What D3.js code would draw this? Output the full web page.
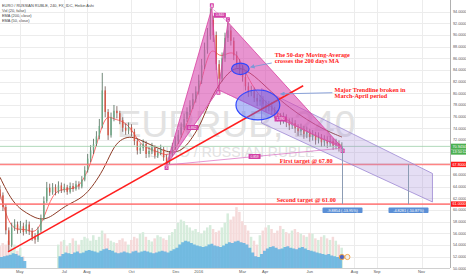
<!DOCTYPE html>
<html>
<head>
<meta charset="utf-8">
<script src="https://cdn.jsdelivr.net/npm/d3@7"></script>
<style>
body{margin:0;background:#fff;}
svg{display:block;}
</style>
</head>
<body>
<div id="chart"></div>
<script>
const W = 466, H = 275, plotR = 450 ;
const startDay = new Date(2015, 3, 4), endDay = new Date(2016, 11, 10) ;
const stepDays = 4 ;
const firstOpen = 63.5 ;

// 4-day candles
const closes = [62.5,60.5,56.5,54,57,57.5,56.5,57.2,56.2,57.5,56.3,55.3,54.9,56.5,58.5,61.5,63.8,63,63.9,63.1,
	64.2,63.4,63.9,63.1,64.1,63.6,64.4,64,65.2,66.8,68.8,70.2,71.3,72.6,74.4,80.5,76.8,72.8,75.8,77,
	76.6,75.4,74.1,73.6,74.2,73.4,71.8,70.2,70.6,71.3,69.6,70.1,70.7,69.3,69.8,70.4,69,68,69.5,70.8,
	71.8,72.9,74.2,75.6,76.8,77.9,79,80.3,82.2,84.8,87.5,89.8,92.6,90,85,82.5,86,89.5,90.8,89,
	86.5,85.2,84,82.8,81.2,80.1,80.4,79.2,78.6,78.9,78.1,77.6,77.9,77,76.5,75.9,75.4,75.9,75,74.5,
	74.9,74,73.5,73.9,73,73.4,72.5,72.9,72,72.4,71.6,72,71.4,71.8,71,71.4,70.6,70.9] ;
const highs = [64.2,63,61,57,57.8,58.4,58,58.1,57.8,58.3,58,56.9,56,57.1,59.2,62.3,64.8,64.5,64.6,64.4,
	64.9,64.7,64.5,64.3,64.7,64.6,65,64.9,65.8,67.5,69.6,71.1,72.2,73.5,75.6,83.5,81.2,77.3,76.7,78,
	77.8,77,75.9,74.8,75,74.7,73.9,72.3,71.4,72.1,71.8,70.8,71.5,71.1,70.5,71.2,70.8,69.5,70.1,71.5,
	72.6,73.7,75,76.5,77.6,78.8,80,81.2,83.2,85.9,88.7,91.2,94.6,93.3,90.6,85.7,87,90.4,92.2,91.5,
	89.6,87.2,85.9,84.8,83.5,81.9,81.3,81,79.9,79.7,79.5,78.8,78.7,78.5,77.7,77.1,76.6,76.7,76.4,75.7,
	75.8,75.4,74.7,74.8,74.4,74.3,73.9,73.7,73.4,73.3,73,72.8,72.6,72.7,72.3,72.2,71.9,71.6] ;
const lows = [61.8,59.8,55.8,52.8,53.6,56.4,55.9,56,55.6,55.9,55.7,54.7,54.2,54.5,56.1,58.2,61.2,62.4,62.6,62.5,
	62.8,62.9,63,62.6,62.8,63.1,63.3,63.5,63.7,64.9,66.4,68.2,69.6,70.9,72.1,74,75.9,72,72.4,75.2,
	75.7,74.7,73.4,72.9,73,72.6,71.1,69.5,69.6,70.1,68.9,69,69.6,68.8,68.9,69.4,68.4,67.7,67.8,69.1,
	70.3,71.3,72.4,73.7,75.1,76.3,77.3,78.4,79.8,81.6,84.2,86.8,89.2,88.8,84,80.6,82,85.4,88.8,88.2,
	85.7,84.4,83.2,82,80.5,79.4,79.5,78.5,77.8,77.9,77.3,76.8,76.9,76.3,75.7,75.2,74.6,74.8,74.2,73.7,
	73.9,73.2,72.7,72.8,72.2,72.3,71.7,71.9,71.2,71.4,70.8,70.9,70.6,70.8,70.3,70.4,70,70.1] ;

// volume and its 20-bar average (relative units)
const vols = [28,32,30,35,26,30,22,26,15,0,0,0,0,0,0,0,0,0,0,0,
	30,34,36,28,32,38,35,30,36,40,38,35,42,36,40,48,44,38,35,33,
	32,36,38,34,30,36,40,38,44,46,40,36,34,38,42,40,38,36,42,46,
	50,58,62,60,55,52,48,50,46,44,48,52,55,50,46,48,52,58,70,62,
	66,78,72,60,55,48,40,35,30,42,48,52,55,50,45,48,54,50,46,44,
	48,50,46,44,42,40,45,44,38,36,40,42,38,36,40,35,30,26] ;
const volAvg = [14,15,16,17,19,18,16,14,9,0,0,0,0,0,0,0,0,0,0,0,
	15,18,20,19,18,20,21,19,20,22,23,22,21,20,22,24,25,23,22,20,
	19,20,21,20,19,21,22,20,21,22,21,20,19,20,21,22,21,20,22,24,
	26,30,33,35,34,32,30,29,28,27,28,30,31,29,28,27,29,31,33,32,
	34,35,33,32,30,26,20,15,14,18,22,25,27,28,26,24,25,27,28,26,
	25,24,26,27,25,23,22,21,20,19,18,17,18,16,15,14,13,12] ;

// moving averages, one value every 3 candles
const emaStep = 3 ;
const ema50 = [62.8,57.5,56.5,56.8,55.8,58.5,62.8,63.5,63.6,63.9,66.5,71,76.5,75.5,75.3,73.9,71.2,70.5,70,69.2,
	70.2,73.5,77.5,82,88.5,86,87,87,83.5,80.8,78.9,77.6,76.2,75.2,74.2,73.5,72.6,72,71.5,71.1] ;
const ema200 = [65.6,62.5,60.5,59.5,58.6,58.3,59,60.2,61.1,61.8,63,65,67.5,71,72.3,72.6,72,71.3,70.6,70,
	69.8,70.5,72.5,75,79,81.5,83.5,84.5,84,83,81.6,80.2,78.8,77.6,76.5,75.5,74.6,73.8,73.1,72.5] ;

const priceTicks = [50,52,54,56,58,60,62,64,66,68,70,72,74,76,78,80,82,84,86,88,90,92,94] ;
const monthTicks = ["2015-05-01","2015-07-01","2015-08-01","2015-10-01","2015-12-01","2016-01-01",
	"2016-03-01","2016-04-01","2016-06-01","2016-08-01","2016-09-01","2016-11-01"] ;
const monthLabels = ["May","Jul","Aug","Oct","Dec","2016","Mar","Apr","Jun","Aug","Sep","Nov"] ;

// harmonic pattern X A B C D
const patNames  = ["X","A","B","C","D"] ;
const patDates  = ["2015-11-18","2016-01-19","2016-01-28","2016-02-10","2016-07-16"] ;
const patPrices = [67.7,94.6,80.6,92.2,70.6] ;
const patRatios = ["0.862","0.840","1.390","0.859"] ;   // XB, AC, BD, XD

const trendDates  = ["2015-04-15","2016-05-23"] ;
const trendPrices = [52.8,81.3] ;
const targets = [67.8, 61.0] ;
const lastPrice = 70.9 ;

// channel corners: upper start, upper end, lower end, lower start
const chanDates  = ["2016-03-27","2016-11-16","2016-11-16","2016-03-27"] ;
const chanPrices = [80.8,66.25,61.36,74.9] ;

const measureDates = ["2016-07-15","2016-10-13"] ;
const measureFrom  = [70.9, 67.8] ;
const measureLbls  = ["-9.8854 (-13.95%)","-4.8281 (-10.87%)"] ;

const notes = [
	{ d:"2016-04-14", p:86.3, t:"The 50-day Moving-Average" },
	{ d:"2016-04-14", p:85.25, t:"crosses the 200 days MA" },
	{ d:"2016-07-05", p:80.2, t:"Major Trendline broken in" },
	{ d:"2016-07-05", p:79.25, t:"March-April period" },
	{ d:"2016-04-21", p:68.1, t:"First target @ 67.80" },
	{ d:"2016-04-17", p:61.3, t:"Second target @ 61.00" }
] ;
const arrows = [
	{ d0:"2016-04-10", p0:85.2, d1:"2016-03-12", p1:84.5 },
	{ d0:"2016-07-02", p0:80.1, d1:"2016-04-22", p1:79.9 }
] ;
const ellipses = [
	{ d:"2016-02-27", p:84.2, rd:12.3, rp:0.98, fill:"#7b4fc9", op:0.6 },
	{ d:"2016-03-22", p:78.0, rd:30, rp:2.57, fill:"#5a6cf0", op:0.45 }
] ;

const legendLines = ["EURO / RUSSIAN RUBLE, 240, FX_IDC, Heikin Ashi","Vol (20, false)","EMA (200, close)","EMA (50, close)"] ;

const pd = d3.timeParse("%Y-%m-%d") ;

const svg = d3.select("#chart").append("svg").attr("width", W).attr("height", H) ;
svg.append("rect").attr("width", W).attr("height", H).attr("fill", "#ffffff") ;

const x  = d3.scaleTime().domain([startDay, endDay]).range([0, plotR]) ;
const y  = d3.scaleLinear().domain([50, 94]).range([268.2, 11.7]) ;
const vy = d3.scaleLinear().domain([0, 100]).range([268, 190]) ;
const xd = (s)=> x(pd(s)) ;

const dates = closes.map((c,i)=> d3.timeDay.offset(startDay, i*stepDays)) ;
const opens = closes.map((c,i)=> i==0 ? firstOpen : closes[i-1]) ;

// grid
const grid = svg.append("g").attr("stroke", "#ececec").attr("stroke-width", 1) ;
grid.selectAll(".hg").data(priceTicks).enter().append("line")
	.attr("x1", 0).attr("x2", plotR).attr("y1", d=> Math.round(y(d))+0.5).attr("y2", d=> Math.round(y(d))+0.5) ;
grid.selectAll(".vg").data(monthTicks).enter().append("line")
	.attr("y1", 0).attr("y2", 268).attr("x1", d=> Math.round(xd(d))+0.5).attr("x2", d=> Math.round(xd(d))+0.5) ;

// watermark
svg.append("text").attr("x", 236).attr("y", 137).attr("text-anchor", "middle")
	.style("font-family", "Liberation Sans, Arial, sans-serif").style("font-size", "37px")
	.attr("fill", "#e2e2e2").text("EURRUB, 240") ;
svg.append("text").attr("x", 232).attr("y", 157).attr("text-anchor", "middle")
	.style("font-family", "Liberation Sans, Arial, sans-serif").style("font-size", "14px")
	.attr("fill", "#e2e2e2").text("EURO / RUSSIAN RUBLE") ;

// volume
const bw = x(d3.timeDay.offset(startDay, stepDays)) - x(startDay) ;
svg.append("g").selectAll("rect").data(vols).enter().append("rect")
	.attr("x", (d,i)=> x(dates[i]) - bw/2).attr("width", bw*0.85)
	.attr("y", d=> vy(d)).attr("height", d=> vy(0) - vy(d))
	.attr("fill", (d,i)=> closes[i] >= opens[i] ? "#d6ecdc" : "#f5dada") ;
svg.append("path").datum(volAvg)
	.attr("d", d3.area().x((d,i)=> x(dates[i])).y0(vy(0)).y1(d=> vy(d)).curve(d3.curveStepAfter))
	.attr("fill", "#5fb1e1").attr("opacity", 0.85) ;

// moving averages
const emaLine = d3.line().x((d,i)=> x(dates[i*emaStep])).y(d=> y(d)).curve(d3.curveBasis) ;
svg.append("path").datum(ema200).attr("d", emaLine).attr("fill", "none").attr("stroke", "#8e3b26").attr("stroke-width", 1) ;
svg.append("path").datum(ema50).attr("d", emaLine).attr("fill", "none").attr("stroke", "#ff6b6b").attr("stroke-width", 1) ;

// candles
const cg = svg.append("g") ;
cg.selectAll("line").data(closes).enter().append("line")
	.attr("x1", (d,i)=> x(dates[i])).attr("x2", (d,i)=> x(dates[i]))
	.attr("y1", (d,i)=> y(highs[i])).attr("y2", (d,i)=> y(lows[i]))
	.attr("stroke", (d,i)=> closes[i] >= opens[i] ? "#34553f" : "#5e3a33").attr("stroke-width", 0.7) ;
cg.selectAll("rect").data(closes).enter().append("rect")
	.attr("x", (d,i)=> x(dates[i]) - 0.7).attr("width", 1.4)
	.attr("y", (d,i)=> y(Math.max(opens[i], closes[i])))
	.attr("height", (d,i)=> Math.max(0.8, Math.abs(y(opens[i]) - y(closes[i]))))
	.attr("fill", (d,i)=> closes[i] >= opens[i] ? "#6ba583" : "#d75442") ;

// horizontal levels
svg.append("line").attr("x1", 0).attr("x2", plotR).attr("y1", y(lastPrice)).attr("y2", y(lastPrice))
	.attr("stroke", "#9ccfa9").attr("stroke-width", 0.8) ;
svg.selectAll(".tgt").data(targets).enter().append("line")
	.attr("x1", 0).attr("x2", plotR).attr("y1", d=> y(d)).attr("y2", d=> y(d))
	.attr("stroke", "#ff6f6f").attr("stroke-width", 1.6).attr("opacity", 0.85) ;

// parallel channel
svg.append("path").datum(chanDates.map((d,i)=> [xd(d), y(chanPrices[i])]))
	.attr("d", d=> d3.line()(d) + "Z")
	.attr("fill", "#a08ad6").attr("fill-opacity", 0.28).attr("stroke", "#9c86d3").attr("stroke-width", 0.8) ;

// harmonic pattern
const P = patDates.map((d,i)=> [xd(d), y(patPrices[i])]) ;
const pg = svg.append("g") ;
[[0,1,2],[2,3,4]].forEach(t=>{
	pg.append("path").attr("d", d3.line()(t.map(k=> P[k])) + "Z")
		.attr("fill", "#d84cb0").attr("fill-opacity", 0.6).attr("stroke", "#d8409f").attr("stroke-width", 0.8) ;
}) ;
const ratioPairs = [[0,2],[1,3],[2,4],[0,4]] ;
ratioPairs.forEach(r=>{
	pg.append("line").attr("x1", P[r[0]][0]).attr("y1", P[r[0]][1]).attr("x2", P[r[1]][0]).attr("y2", P[r[1]][1])
		.attr("stroke", "#d86ac0").attr("stroke-width", 0.7).attr("stroke-dasharray", r[0]==0&&r[1]==4 ? null : "2,1") ;
}) ;
ratioPairs.forEach((r,i)=>{
	const mx = (P[r[0]][0] + P[r[1]][0])/2, my = (P[r[0]][1] + P[r[1]][1])/2 ;
	pg.append("rect").attr("x", mx-6).attr("y", my-2.5).attr("width", 12).attr("height", 5).attr("fill", "#d23fa6").attr("rx", 0.5) ;
	pg.append("text").attr("x", mx).attr("y", my+1.2).attr("text-anchor", "middle")
		.style("font-family", "Liberation Sans, Arial, sans-serif").style("font-size", "3.3px").attr("fill", "#fff").text(patRatios[i]) ;
}) ;
P.forEach((p,i)=>{
	const up = (i==1 || i==3) ;
	pg.append("rect").attr("x", p[0]-2).attr("y", up ? p[1]-5 : p[1]+0.5).attr("width", 4).attr("height", 4.5).attr("fill", "#d23fa6").attr("rx", 0.6) ;
	pg.append("text").attr("x", p[0]).attr("y", up ? p[1]-1.5 : p[1]+4).attr("text-anchor", "middle")
		.style("font-family", "Liberation Sans, Arial, sans-serif").style("font-size", "3.5px").attr("fill", "#fff").text(patNames[i]) ;
}) ;

// trendline
svg.append("line").attr("x1", xd(trendDates[0])).attr("y1", y(trendPrices[0]))
	.attr("x2", xd(trendDates[1])).attr("y2", y(trendPrices[1]))
	.attr("stroke", "#ff1f1f").attr("stroke-width", 1.5) ;

// ellipses
ellipses.forEach(e=>{
	const cx = xd(e.d), cy = y(e.p) ;
	svg.append("ellipse").attr("cx", cx).attr("cy", cy)
		.attr("rx", x(d3.timeDay.offset(pd(e.d), e.rd)) - cx).attr("ry", y(e.p - e.rp) - cy)
		.attr("fill", e.fill).attr("fill-opacity", e.op).attr("stroke", "#2f47ff").attr("stroke-width", 1.2) ;
}) ;

// measurements
measureDates.forEach((d,i)=>{
	const mx = Math.round(xd(d)) + 0.5 ;
	svg.append("line").attr("x1", mx).attr("x2", mx).attr("y1", y(measureFrom[i])).attr("y2", y(targets[1]))
		.attr("stroke", "#8c9cb4").attr("stroke-width", 1) ;
	svg.append("rect").attr("x", mx-20).attr("y", y(targets[1])+3.5).attr("width", 40).attr("height", 5.5)
		.attr("fill", "#5b8fd6").attr("rx", 0.8) ;
	svg.append("text").attr("x", mx).attr("y", y(targets[1])+7.6).attr("text-anchor", "middle")
		.style("font-family", "Liberation Sans, Arial, sans-serif").style("font-size", "3.8px").attr("fill", "#fff").text(measureLbls[i]) ;
}) ;

// arrows
svg.append("defs").append("marker").attr("id", "ah").attr("viewBox", "0 0 10 10").attr("refX", 9).attr("refY", 5)
	.attr("markerWidth", 5).attr("markerHeight", 5).attr("orient", "auto")
	.append("path").attr("d", "M0,0L10,5L0,10Z").attr("fill", "#7d97d6") ;
arrows.forEach(a=>{
	svg.append("line").attr("x1", xd(a.d0)).attr("y1", y(a.p0)).attr("x2", xd(a.d1)).attr("y2", y(a.p1))
		.attr("stroke", "#7d97d6").attr("stroke-width", 0.9).attr("marker-end", "url(#ah)") ;
}) ;

// notes
svg.append("g").selectAll("text").data(notes).enter().append("text")
	.attr("x", d=> xd(d.d)).attr("y", d=> y(d.p))
	.style("font-family", "Liberation Serif, DejaVu Serif, serif").style("font-size", "6.2px").style("font-weight", "bold")
	.attr("fill", "#ff1a1a").text(d=> d.t) ;

// axes
svg.append("line").attr("x1", plotR+0.5).attr("x2", plotR+0.5).attr("y1", 0).attr("y2", 268).attr("stroke", "#b0b0b0") ;
svg.append("line").attr("x1", 0).attr("x2", plotR).attr("y1", 268.5).attr("y2", 268.5).attr("stroke", "#d0d0d0") ;
svg.append("g").selectAll("text").data(priceTicks).enter().append("text")
	.attr("x", 453).attr("y", d=> y(d)+1.3)
	.style("font-family", "Liberation Sans, Arial, sans-serif").style("font-size", "3.7px").attr("fill", "#555")
	.text(d=> d3.format(".4f")(d)) ;
svg.append("g").selectAll("text").data(monthTicks).enter().append("text")
	.attr("x", d=> xd(d)).attr("y", 273).attr("text-anchor", "middle")
	.style("font-family", "Liberation Sans, Arial, sans-serif").style("font-size", "4px").attr("fill", "#555")
	.text((d,i)=> monthLabels[i]) ;

// axis badges
const badges = [
	{ p:lastPrice, dy:0, fill:"#4caf50", t:"70.9434" },
	{ p:lastPrice, dy:5.6, fill:"#4caf50", t:"13:50:12" },
	{ p:targets[0], dy:0, fill:"#ff1a1a", t:"67.8000" },
	{ p:targets[1], dy:0, fill:"#ff1a1a", t:"61.0000" }
] ;
badges.forEach(b=>{
	svg.append("rect").attr("x", plotR+1).attr("y", y(b.p)+b.dy-2.7).attr("width", 15).attr("height", 5.4).attr("fill", b.fill) ;
	svg.append("text").attr("x", plotR+2.5).attr("y", y(b.p)+b.dy+1.3)
		.style("font-family", "Liberation Sans, Arial, sans-serif").style("font-size", "3.7px").attr("fill", "#fff").text(b.t) ;
}) ;

// event icons
[0,1].forEach(k=>{
	svg.append("circle").attr("cx", xd(measureDates[0]) + k*5.5).attr("cy", 257).attr("r", 2.6)
		.attr("fill", k==0 ? "#4b64c4" : "#f0f0f0").attr("stroke", "#f0a040").attr("stroke-width", 0.9) ;
}) ;

// legend
svg.append("g").selectAll("text").data(legendLines).enter().append("text")
	.attr("x", 2).attr("y", (d,i)=> 6.5 + i*5)
	.style("font-family", "Liberation Sans, Arial, sans-serif").style("font-size", "3.9px")
	.attr("fill", "#444").text(d=> d) ;
</script>
</body>
</html>
